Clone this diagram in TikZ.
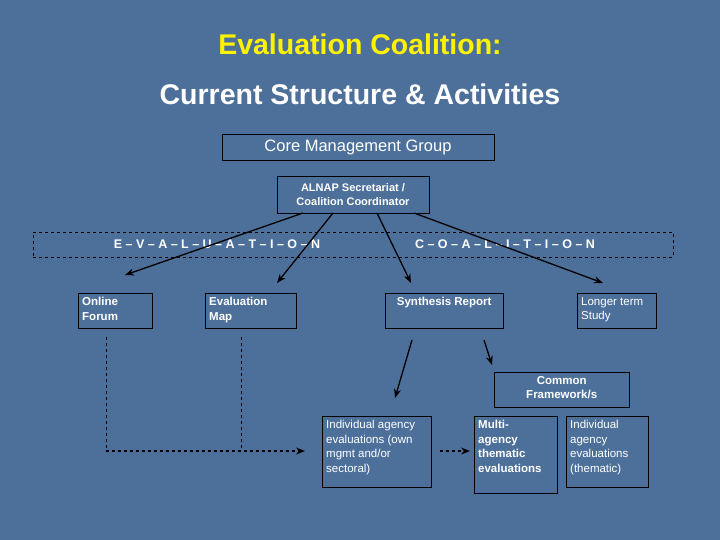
\documentclass[tikz,border=0pt]{standalone}
\usepackage{fontspec}
\setmainfont{Liberation Sans}
\usetikzlibrary{positioning,calc}
\definecolor{colorBG}{HTML}{4D709B}
\newcommand{\boxtext}[3]{\parbox[c][#2pt][t]{#1pt}{\raggedright #3}}
\tikzset{
   every path/.style={>=stealth},
   box/.style={draw=black,thin,inner sep=4pt,anchor=north west,font=\fontsize{11.5}{14.5}\selectfont,text=white},
   lnk/.style={-{Stealth[length=9pt,width=7pt]},line width=1.3pt,color=black},
   fed/.style={-{Stealth[length=9pt,width=7pt]},dashed,line width=1.3pt,color=black},
}
\usetikzlibrary{arrows.meta}
\begin{document}
\begin{tikzpicture}[x=1pt,y=-1pt]
  \fill[colorBG] (0,0) rectangle (720,540);
  \useasboundingbox (0,0) rectangle (720,540);
  \node[text=yellow,font=\bfseries\fontsize{28.5}{30}\selectfont] (ttl) at (360,44) {Evaluation Coalition:};
  \node[text=white,font=\bfseries\fontsize{28.5}{30}\selectfont] (sub) at (360,94) {Current Structure \& Activities};
  \node[draw=black,minimum width=272pt,minimum height=26pt,text=white,font=\fontsize{16.5}{18}\selectfont] (cmg) at (358,147) {Core Management Group};
  \node[draw=black,minimum width=152pt,minimum height=37pt,align=center,text=white,font=\bfseries\fontsize{11}{14}\selectfont] (alnap) at (353,194.5) {ALNAP Secretariat /\\Coalition Coordinator};
  \node[draw=black,dashed,minimum width=640pt,minimum height=25pt] (band) at (353,244.5) {};
  \node[text=white,font=\bfseries\fontsize{12.5}{14}\selectfont] (eva) at (217,244) {E\ --\ V\ --\ A\ --\ L\ --\ U\ --\ A\ --\ T\ --\ I\ --\ O\ --\ N};
  \node[text=white,font=\bfseries\fontsize{12.5}{14}\selectfont] (coa) at (505,244) {C\ --\ O\ --\ A\ --\ L\ --\ I\ --\ T\ --\ I\ --\ O\ --\ N};
  \node[box,font=\bfseries\fontsize{11.5}{14.5}\selectfont] (forum) at (78,293) {\boxtext{66}{27}{Online\\Forum}};
  \node[box,font=\bfseries\fontsize{11.5}{14.5}\selectfont] (emap) at (205,293) {\boxtext{83}{27}{Evaluation\\Map}};
  \node[box,font=\bfseries\fontsize{11.5}{14.5}\selectfont] (synth) at (385,293) {\boxtext{110}{27}{\centering Synthesis Report}};
  \node[box] (study) at (577,293) {\boxtext{71}{27}{Longer term\\Study}};
  \node[box,font=\bfseries\fontsize{11.5}{14.5}\selectfont] (cfw) at (494,372) {\boxtext{127}{27}{\centering Common\\Framework/s}};
  \node[box] (indiv) at (322,416) {\boxtext{101}{63}{Individual agency evaluations (own mgmt and/or sectoral)}};
  \node[box,font=\bfseries\fontsize{11.5}{14.5}\selectfont] (multi) at (474,416) {\boxtext{75}{69}{Multi-\\agency\\thematic\\evaluations}};
  \node[box] (them) at (566,416) {\boxtext{74}{63}{Individual\\agency\\evaluations\\(thematic)}};
  % arrows from the secretariat
  \coordinate (s1) at (303,213);
  \coordinate (s2) at (333,213);
  \coordinate (s3) at (377,213);
  \coordinate (s4) at (414,213);
  \coordinate (t1) at (125,275);
  \coordinate (t2) at (277,283);
  \coordinate (t3) at (411,283);
  \coordinate (t4) at (603,283);
  \draw[lnk] (s1) -- (t1);
  \draw[lnk] (s2) -- (t2);
  \draw[lnk] (s3) -- (t3);
  \draw[lnk] (s4) -- (t4);
  \coordinate (r1) at (412,340);
  \coordinate (r2) at (395,398);
  \coordinate (r3) at (484,340);
  \coordinate (r4) at (492,365);
  \draw[lnk] (r1) -- (r2);
  \draw[lnk] (r3) -- (r4);
  % dashed feeds
  \coordinate (f1) at (106,337);
  \coordinate (f2) at (241,337);
  \coordinate (fc) at (106,451);
  \coordinate (fe) at (305,451);
  \draw[dashed] (f1) -- (fc);
  \draw[dashed] (f2) -- (241,451);
  \draw[fed] (fc) -- (fe);
  \draw[fed] (440,451) -- (470,451);
\end{tikzpicture}
\end{document}
